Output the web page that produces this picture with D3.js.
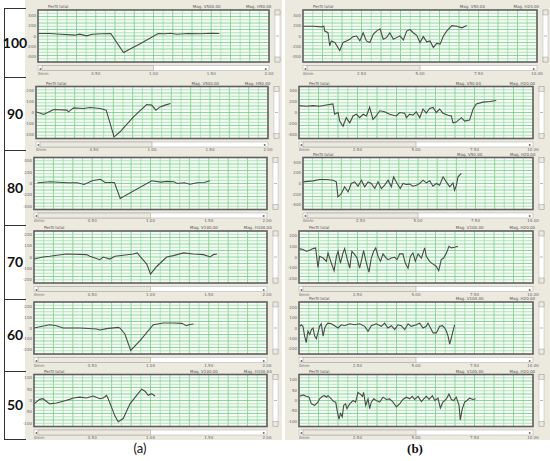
<!DOCTYPE html>
<html>
<head>
<meta charset="utf-8">
<script src="https://cdn.jsdelivr.net/npm/d3@7/dist/d3.min.js"></script>
<style>
  body { margin: 0; background: #fff; }
  svg { display: block; }
</style>
</head>
<body>
<div class="chart"></div>
<script>
// profilometer screenshots, two columns (a) and (b), six rows
var svgWidth = 550;
var svgHeight = 461;

// ---- data ----
var rowLabels = ["100", "90", "80", "70", "60", "50"];
var xTickLabelsA = ["0mm", "0.50", "1.00", "1.50", "2.00"];
var xTickLabelsB = ["0mm", "2.50", "5.00", "7.50", "10.00"];
var xMaxA = 2;
var xMaxB = 10;

var yTicksA = [[400, 200, 0, -200, -400], [200, 100, 0, -100, -200], [400, 200, 0, -200, -400],
  [200, 100, 0, -100, -200], [200, 100, 0, -100, -200], [100, 50, 0, -50, -100]];
var yTicksB = [[400, 200, 0, -200, -400], [400, 200, 0, -200, -400], [400, 200, 0, -200, -400],
  [200, 100, 0, -100, -200], [200, 100, 0, -100, -200], [100, 50, 0, -50, -100]];
var yMaxA = [500, 240, 460, 230, 245, 115];
var yMaxB = [515, 465, 487, 245, 250, 125];

// header texts of each screenshot (null = hidden under the row above)
var magA = [["V500.00", "H50.00"], ["V500.00", "H50.00"], null, ["V100.00", "H100.00"], null, ["V100.00", "H100.00"]];
var magB = [["V50.00", "H20.00"], ["V50.00", "H20.00"], ["V50.00", "H20.00"], ["V100.00", "H20.00"],
  ["V100.00", "H20.00"], ["V100.00", "H20.00"]];

// profiles: [position mm, height um]
var profileA100 = [[0, 48], [0.1, 48], [0.2, 35], [0.32, 16], [0.36, 35], [0.42, 3], [0.47, 35], [0.55, 42],
  [0.63, 48], [0.74, -317], [0.9, -131], [1.04, 48], [1.1, 42], [1.15, 54], [1.2, 35], [1.3, 48], [1.4, 42],
  [1.5, 54], [1.57, 48]];
var profileA90 = [[0, 6], [0.066, -18], [0.123, 12], [0.152, 28], [0.266, 22], [0.28, 6], [0.324, 43], [0.41, 37],
  [0.467, 46], [0.553, 37], [0.605, 22], [0.673, -225], [0.725, -178], [0.84, -40], [0.954, 74], [0.997, 68],
  [1.034, 22], [1.069, 52], [1.112, 68], [1.16, 83]];
var profileA80 = [[0.03, 12], [0.14, 31], [0.29, 12], [0.37, 12], [0.43, -18], [0.5, 49], [0.57, 74], [0.61, 18],
  [0.69, 18], [0.74, -265], [1.01, 49], [1.09, 25], [1.14, 37], [1.2, 31], [1.23, 0], [1.29, 12], [1.34, -12],
  [1.4, 12], [1.46, 18], [1.51, 49]];
var profileA70 = [[0, -18], [0.077, 0], [0.135, 6], [0.278, 27], [0.45, 21], [0.48, 6], [0.565, -24], [0.594, 0],
  [0.65, -18], [0.694, 6], [0.766, 15], [0.852, 27], [0.887, 36], [0.91, 6], [0.968, -63], [1.0, -152], [1.053, -84],
  [1.139, 0], [1.197, 12], [1.283, 36], [1.369, 27], [1.455, 21], [1.512, 0], [1.54, 21], [1.57, 27]];
var profileA60 = [[0, 0], [0.049, 12], [0.135, 31], [0.192, 22], [0.25, 0], [0.393, 0], [0.537, -9], [0.565, -19],
  [0.623, -6], [0.723, 6], [0.737, 0], [0.78, -56], [0.83, -212], [0.91, -119], [1.024, 31], [1.11, 47], [1.197, 47],
  [1.268, 44], [1.31, 22], [1.326, 31], [1.369, 38]];
var profileA50 = [[0, -15], [0.049, 5], [0.077, 8], [0.135, -15], [0.192, -11], [0.25, -3], [0.307, 5], [0.336, 11],
  [0.393, 15], [0.45, 11], [0.508, 20], [0.565, 8], [0.594, 11], [0.623, 23], [0.637, 8], [0.694, -68], [0.723, -94],
  [0.766, -80], [0.824, -15], [0.881, 23], [0.924, 50], [0.953, 41], [0.981, 23], [1.01, 30], [1.039, 20]];

var profileB100 = [[0, 194], [0.43, 194], [0.79, 181], [0.89, 194], [0.93, 97], [1.07, 65], [1.14, -194], [1.21, -97],
  [1.36, -129], [1.57, -290], [1.71, -129], [1.86, -97], [2.0, -65], [2.14, -13], [2.29, 0], [2.43, -97], [2.57, 65],
  [2.71, -97], [2.86, -129], [3.0, 32], [3.14, 97], [3.29, 142], [3.43, -65], [3.57, -32], [3.71, 65], [3.86, -65],
  [4.0, -32], [4.14, 0], [4.29, -77], [4.43, 97], [4.57, 129], [4.71, 65], [4.86, 13], [5.0, -129], [5.14, -13],
  [5.29, -116], [5.43, -97], [5.57, -226], [5.71, -148], [5.86, -161], [6.0, 0], [6.14, 97], [6.36, 206], [6.57, 194],
  [6.79, 161], [7.0, 206]];
var profileB90 = [[0, 123], [0.31, 111], [0.6, 123], [0.88, 111], [1.17, 135], [1.45, 154], [1.52, -31], [1.67, 0],
  [1.74, -154], [1.88, -246], [2.02, -92], [2.17, -185], [2.31, -62], [2.45, -31], [2.59, -92], [2.74, -31],
  [2.88, -62], [3.02, 92], [3.16, -123], [3.3, -62], [3.45, 31], [3.66, 12], [3.87, -31], [4.16, -62], [4.3, 0],
  [4.52, -12], [4.59, -92], [4.73, -31], [4.87, -49], [5.01, 12], [5.16, -92], [5.3, 62], [5.44, -12], [5.58, 74],
  [5.73, 92], [5.87, 0], [6.01, 62], [6.15, -12], [6.37, -49], [6.51, -62], [6.58, -185], [6.72, -172], [6.94, -92],
  [7.08, -154], [7.29, -135], [7.44, 62], [7.58, 154], [7.86, 185], [8.15, 197], [8.43, 215]];
var profileB80 = [[0, 31], [0.43, 50], [0.72, 75], [1.01, 75], [1.3, 62], [1.45, 31], [1.52, -250], [1.67, -188],
  [1.81, -62], [1.96, -156], [2.1, 0], [2.25, 31], [2.39, -50], [2.54, 62], [2.68, -62], [2.83, 31], [2.97, 0],
  [3.12, -94], [3.26, 31], [3.41, -94], [3.55, -31], [3.7, 62], [3.84, -62], [3.94, 125], [4.09, 0], [4.23, -94],
  [4.35, 0], [4.49, -19], [4.64, -12], [4.78, -50], [4.93, -31], [5.07, 0], [5.22, 62], [5.36, 12], [5.51, 50],
  [5.65, -50], [5.8, 0], [5.94, -31], [6.09, 125], [6.23, 31], [6.38, -62], [6.52, 12], [6.59, -125], [6.67, -31],
  [6.74, 125], [6.88, 188]];
var profileB70 = [[0, 79], [0.17, 70], [0.31, 54], [0.46, 63], [0.6, 79], [0.71, 86], [0.81, -98], [0.88, 6],
  [1.03, -10], [1.17, -41], [1.24, 38], [1.38, -57], [1.5, -130], [1.6, 6], [1.67, 54], [1.77, -57], [1.88, 38],
  [1.95, 79], [2.05, -10], [2.17, -105], [2.26, 54], [2.38, 22], [2.48, -10], [2.59, -105], [2.66, -41], [2.76, 60],
  [2.88, -57], [2.99, -143], [3.09, -10], [3.19, 54], [3.28, 86], [3.38, 6], [3.48, -41], [3.59, 29], [3.7, -3],
  [3.8, -25], [3.95, -10], [4.09, -3], [4.19, -25], [4.3, 29], [4.44, 29], [4.54, -57], [4.66, -105], [4.76, 6],
  [4.87, 38], [4.97, -41], [5.09, 29], [5.23, -10], [5.37, 86], [5.44, 6], [5.58, -41], [5.73, -67], [5.87, -89],
  [5.97, -130], [6.08, -25], [6.18, -10], [6.3, 38], [6.41, 101], [6.51, 86], [6.65, 92], [6.79, 101]];
var profileB60 = [[0.03, 16], [0.1, 31], [0.17, 16], [0.24, -78], [0.31, -141], [0.38, -31], [0.46, -62], [0.53, -16],
  [0.6, 0], [0.67, -78], [0.74, -103], [0.81, -47], [0.88, 16], [0.95, 41], [1.03, -78], [1.1, 0], [1.17, 31],
  [1.24, 47], [1.38, 41], [1.52, 22], [1.67, 0], [1.81, 31], [1.95, 22], [2.17, 41], [2.38, 31], [2.59, 41],
  [2.81, 16], [2.95, -31], [3.09, 22], [3.3, 41], [3.52, 16], [3.66, 47], [3.8, 0], [3.95, 22], [4.09, -16],
  [4.23, 31], [4.37, 22], [4.52, -16], [4.66, 41], [4.8, 16], [5.01, 31], [5.16, 47], [5.3, 0], [5.44, 16],
  [5.51, 47], [5.58, 16], [5.73, -47], [5.87, -47], [6.01, 16], [6.13, 22], [6.23, 0], [6.3, -31], [6.37, -78],
  [6.44, -156], [6.51, -94], [6.58, -31], [6.65, 31]];
var profileB50 = [[0.03, 20], [0.17, 27], [0.31, 20], [0.43, 16], [0.53, -16], [0.67, -23], [0.81, -8], [0.88, 8],
  [1.0, 20], [1.1, 23], [1.17, 16], [1.24, 23], [1.38, 8], [1.48, -5], [1.57, -8], [1.64, -55], [1.71, -89],
  [1.77, -62], [1.85, -78], [1.91, -23], [1.99, -16], [2.05, -39], [2.17, -16], [2.31, 0], [2.42, -8], [2.52, 39],
  [2.62, 31], [2.71, 20], [2.76, 39], [2.85, -23], [2.95, 8], [3.02, -39], [3.09, -8], [3.19, 8], [3.3, 0],
  [3.45, -8], [3.59, 16], [3.73, 5], [3.87, 8], [4.02, -8], [4.16, -31], [4.3, -16], [4.44, 5], [4.59, 16],
  [4.73, 8], [4.84, 20], [4.94, 5], [5.09, 20], [5.23, -5], [5.33, 8], [5.44, 20], [5.56, 5], [5.7, 23], [5.8, 0],
  [5.94, 11], [6.04, -36], [6.15, -8], [6.3, 8], [6.41, 31], [6.51, 5], [6.61, 0], [6.72, 16], [6.84, -23],
  [6.89, -94], [6.98, -39], [7.08, -8], [7.18, 0], [7.29, 11], [7.44, 5], [7.55, 8]];

var profilesA = [profileA100, profileA90, profileA80, profileA70, profileA60, profileA50];
var profilesB = [profileB100, profileB90, profileB80, profileB70, profileB60, profileB50];

// ---- layout (pixels) ----
var plotTops = [10, 86.5, 157.5, 231, 302, 374.5];
var plotHeight = 52;
var aLeft = [38, 36, 34, 34, 34, 34];
var aRight = [269, 268, 267, 267, 267, 267];
var bLeft = [303, 299, 303, 299, 299, 299];
var bRight = [537, 533, 533, 533, 533, 533];
var tableLines = [8, 77, 150, 225, 299, 371, 439];

var svg = d3.select(".chart")
  .append("svg")
  .attr("width", svgWidth)
  .attr("height", svgHeight);

// screenshot backgrounds
svg.append("rect").attr("x", 25).attr("y", 0).attr("width", 257).attr("height", 440).attr("fill", "#ece9df");
svg.append("rect").attr("x", 285).attr("y", 0).attr("width", 265).attr("height", 440).attr("fill", "#ece9df");

// table on the left with the row labels
svg.append("line")
  .attr("x1", 4.5).attr("x2", 4.5).attr("y1", tableLines[0]).attr("y2", tableLines[6])
  .attr("stroke", "#333").attr("stroke-width", 1);
svg.selectAll(".row-line")
  .data(tableLines)
  .enter()
  .append("line")
  .attr("x1", 4).attr("x2", 26)
  .attr("y1", d => d + 0.5).attr("y2", d => d + 0.5)
  .attr("stroke", "#333").attr("stroke-width", 1);
svg.selectAll(".row-label")
  .data(rowLabels)
  .enter()
  .append("text")
  .attr("x", 15)
  .attr("y", (d, i) => (tableLines[i] + tableLines[i + 1]) / 2 + 5)
  .attr("text-anchor", "middle")
  .style("font-family", "Lato, 'Open Sans', sans-serif")
  .style("font-weight", "bold")
  .style("font-size", "14px")
  .attr("fill", "#111")
  .text(d => d);

function drawPanel(left, right, top, xMax, xLabels, yMax, yTicks, data, magText) {
  var bottom = top + plotHeight;
  var x = d3.scaleLinear().domain([0, xMax]).range([left, right]);
  var y = d3.scaleLinear().domain([-yMax, yMax]).range([bottom, top]);
  var g = svg.append("g");
  var small = "'DejaVu Sans', sans-serif";

  // title line
  if (magText) {
    g.append("text").attr("x", left + 10).attr("y", top - 2)
      .style("font-family", small).style("font-size", "4px").attr("fill", "#555").text("Perfil total");
    g.append("text").attr("x", left + (right - left) * 0.67).attr("y", top - 2)
      .style("font-family", small).style("font-size", "4px").attr("fill", "#555").text("Mag. " + magText[0]);
    g.append("text").attr("x", left + (right - left) * 0.9).attr("y", top - 2)
      .style("font-family", small).style("font-size", "4px").attr("fill", "#555").text("Mag. " + magText[1]);
  }

  // plot area
  g.append("rect").attr("x", left).attr("y", top).attr("width", right - left).attr("height", plotHeight)
    .attr("fill", "#f6fcf5");

  // grid
  var nx = 24, ny = 8;
  g.selectAll(".vgrid")
    .data(d3.range(1, nx))
    .enter()
    .append("line")
    .attr("x1", i => x(i * xMax / nx)).attr("x2", i => x(i * xMax / nx))
    .attr("y1", top).attr("y2", bottom)
    .attr("stroke", i => i % 2 === 0 ? "#74cc85" : "#a2deae")
    .attr("stroke-width", 0.8);
  g.selectAll(".hgrid")
    .data(d3.range(1, ny * 2))
    .enter()
    .append("line")
    .attr("x1", left).attr("x2", right)
    .attr("y1", i => y(-yMax + i * yMax / ny)).attr("y2", i => y(-yMax + i * yMax / ny))
    .attr("stroke", i => i % 2 === 0 ? "#74cc85" : "#a2deae")
    .attr("stroke-width", 0.8);

  // profile
  var line = d3.line().x(d => x(d[0])).y(d => y(d[1]));
  g.append("path").datum(data)
    .attr("d", line)
    .attr("fill", "none")
    .attr("stroke", "#4a4a4a")
    .attr("stroke-width", 1.1);

  // frame
  g.append("rect").attr("x", left).attr("y", top).attr("width", right - left).attr("height", plotHeight)
    .attr("fill", "none").attr("stroke", "#5e5e5e").attr("stroke-width", 1.6);

  // y tick labels
  g.selectAll(".ytick")
    .data(yTicks)
    .enter()
    .append("text")
    .attr("x", left - 2)
    .attr("y", d => y(d) + 1.5)
    .attr("text-anchor", "end")
    .style("font-family", small).style("font-size", "4px").attr("fill", "#666")
    .text(d => d);

  // horizontal scrollbar
  var sy = bottom + 3.5;
  var mid = (left + right) / 2;
  g.append("rect").attr("x", left).attr("y", sy).attr("width", right - left).attr("height", 5)
    .attr("fill", "#fff").attr("stroke", "#aaa").attr("stroke-width", 0.5);
  g.append("rect").attr("x", left + 4).attr("y", sy).attr("width", mid - left - 4).attr("height", 5)
    .attr("fill", "#ece9df").attr("stroke", "#999").attr("stroke-width", 0.5);
  g.append("text").attr("x", left + 1).attr("y", sy + 4).style("font-size", "4px").attr("fill", "#333").text("◂");
  g.append("text").attr("x", right - 4).attr("y", sy + 4).style("font-size", "4px").attr("fill", "#333").text("▸");

  // x tick labels
  g.selectAll(".xtick")
    .data(xLabels)
    .enter()
    .append("text")
    .attr("x", (d, i) => x(i * xMax / (xLabels.length - 1)))
    .attr("y", bottom + 12.5)
    .attr("text-anchor", (d, i) => i === 0 ? "start" : "middle")
    .style("font-family", small).style("font-size", "4px").attr("fill", "#666")
    .text(d => d);

  // vertical scrollbar on the right
  var vx = right + 6;
  g.append("rect").attr("x", vx).attr("y", top).attr("width", 5).attr("height", plotHeight)
    .attr("fill", "#fff").attr("stroke", "#bbb").attr("stroke-width", 0.5);
  g.append("rect").attr("x", vx).attr("y", top).attr("width", 5).attr("height", 5)
    .attr("fill", "#ece9df").attr("stroke", "#999").attr("stroke-width", 0.5);
  g.append("rect").attr("x", vx).attr("y", bottom - 5).attr("width", 5).attr("height", 5)
    .attr("fill", "#ece9df").attr("stroke", "#999").attr("stroke-width", 0.5);
  g.append("line").attr("x1", vx + 1).attr("x2", vx + 4).attr("y1", top + plotHeight / 2).attr("y2", top + plotHeight / 2)
    .attr("stroke", "#888").attr("stroke-width", 0.6);
}

rowLabels.forEach(function(label, i) {
  drawPanel(aLeft[i], aRight[i], plotTops[i], xMaxA, xTickLabelsA, yMaxA[i], yTicksA[i], profilesA[i], magA[i]);
  drawPanel(bLeft[i], bRight[i], plotTops[i], xMaxB, xTickLabelsB, yMaxB[i], yTicksB[i], profilesB[i], magB[i]);
});

// sub-figure captions
svg.append("text").attr("x", 140).attr("y", 453).attr("text-anchor", "middle")
  .style("font-family", "Lato, 'Open Sans', sans-serif").style("font-size", "13px").attr("fill", "#111").text("(a)");
svg.append("text").attr("x", 415).attr("y", 453).attr("text-anchor", "middle")
  .style("font-family", "'Liberation Serif', serif").style("font-weight", "bold").style("font-size", "13px")
  .attr("fill", "#111").text("(b)");
</script>
</body>
</html>
